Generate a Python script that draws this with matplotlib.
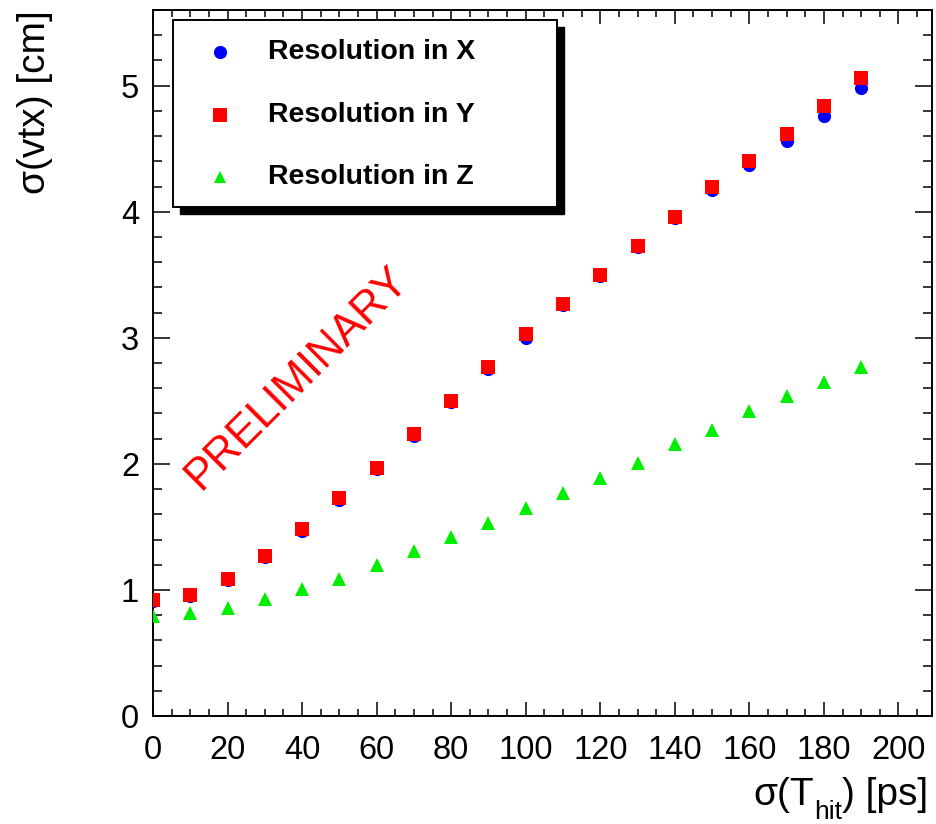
import matplotlib
matplotlib.use('Agg')
import matplotlib.pyplot as plt
from matplotlib.patches import Rectangle
from matplotlib.lines import Line2D
from matplotlib.ticker import MultipleLocator

plt.rcParams['font.family'] = ['Liberation Sans', 'DejaVu Sans']

# hit time resolution [ps]
sigma_t = [0, 10, 20, 30, 40, 50, 60, 70, 80, 90,
           100, 110, 120, 130, 140, 150, 160, 170, 180, 190]
# vertex resolution [cm]
res_x = [0.91, 0.95, 1.08, 1.26, 1.47, 1.71, 1.96, 2.22, 2.49, 2.75,
         3.00, 3.26, 3.49, 3.72, 3.95, 4.17, 4.37, 4.56, 4.76, 4.98]
res_y = [0.92, 0.96, 1.09, 1.27, 1.48, 1.73, 1.97, 2.24, 2.50, 2.77,
         3.03, 3.27, 3.50, 3.73, 3.96, 4.20, 4.40, 4.62, 4.84, 5.06]
res_z = [0.79, 0.82, 0.86, 0.93, 1.01, 1.09, 1.20, 1.31, 1.42, 1.53,
         1.65, 1.77, 1.89, 2.01, 2.16, 2.27, 2.42, 2.54, 2.65, 2.77]

labels = ['Resolution in X', 'Resolution in Y', 'Resolution in Z']

W, H = 937, 824
fig = plt.figure(figsize=(W / 100, H / 100), dpi=100)
fig.patch.set_facecolor('white')


def fx(px):
    return px / W


def fy(py):
    return 1 - py / H


ax = fig.add_axes([fx(153), fy(716), fx(932) - fx(153), fy(10) - fy(716)])

ax.plot(sigma_t, res_x, 'o', color='#0000ff', ms=9.5, mew=0, zorder=3)
ax.plot(sigma_t, res_y, 's', color='#ff0000', ms=9.5, mew=0, zorder=4)
ax.plot(sigma_t, res_z, '^', color='#00ee00', ms=10, mew=0, zorder=3)

ax.set_xlim(0, 209)
ax.set_ylim(0, 5.6)
ax.xaxis.set_major_locator(MultipleLocator(20))
ax.xaxis.set_minor_locator(MultipleLocator(5))
ax.yaxis.set_major_locator(MultipleLocator(1))
ax.yaxis.set_minor_locator(MultipleLocator(0.2))

for s in ax.spines.values():
    s.set_linewidth(1.4)
ax.tick_params(axis='both', which='both', direction='in', top=True, right=True,
               width=1.1, labelsize=23.5)
ax.tick_params(axis='x', which='major', length=10, pad=14)
ax.tick_params(axis='x', which='minor', length=5)
ax.tick_params(axis='y', which='major', length=12, pad=10)
ax.tick_params(axis='y', which='minor', length=6.5)

ax.text(38.7, 2.68, 'PRELIMINARY', color='#ff0000', fontsize=31.5,
        rotation=45, rotation_mode='anchor', ha='center', va='center')

# x title built from pieces so the subscript sits low, ROOT style
renderer = fig.canvas.get_renderer()
tail = fig.text(fx(928), fy(805), ') [ps]', fontsize=28,
                ha='right', va='baseline')
left = tail.get_window_extent(renderer).x0
sub = fig.text(left / W, fy(819), 'hit', fontsize=19,
               ha='right', va='baseline')
left = sub.get_window_extent(renderer).x0
fig.text(left / W, fy(805), 'σ(T', fontsize=28, ha='right', va='baseline')

fig.text(fx(35), fy(10), 'σ(vtx) [cm]', fontsize=28, rotation=90,
         ha='center', va='top')

# legend box with a solid drop shadow
bx0, by0, bx1, by1 = 173, 20, 557, 207
shift = 7
fig.add_artist(Rectangle((fx(bx0 + shift), fy(by1 + shift)),
                         fx(bx1 - bx0), fy(by0) - fy(by1),
                         transform=fig.transFigure, facecolor='black',
                         edgecolor='black', zorder=5))
fig.add_artist(Rectangle((fx(bx0), fy(by1)), fx(bx1 - bx0), fy(by0) - fy(by1),
                         transform=fig.transFigure, facecolor='white',
                         edgecolor='black', lw=1.4, zorder=6))
styles = [('o', '#0000ff', 9.5), ('s', '#ff0000', 9.5), ('^', '#00ee00', 8)]
rows = [52, 115, 177]
for (m, c, ms), lab, ry in zip(styles, labels, rows):
    fig.add_artist(Line2D([fx(220)], [fy(ry)], marker=m, color=c, ms=ms, mew=0,
                          linestyle='none', transform=fig.transFigure, zorder=7))
    fig.text(fx(268), fy(ry), lab, fontsize=20.5, fontweight='bold',
             ha='left', va='center', zorder=7)

fig.savefig('out.png', dpi=100, facecolor='white')
